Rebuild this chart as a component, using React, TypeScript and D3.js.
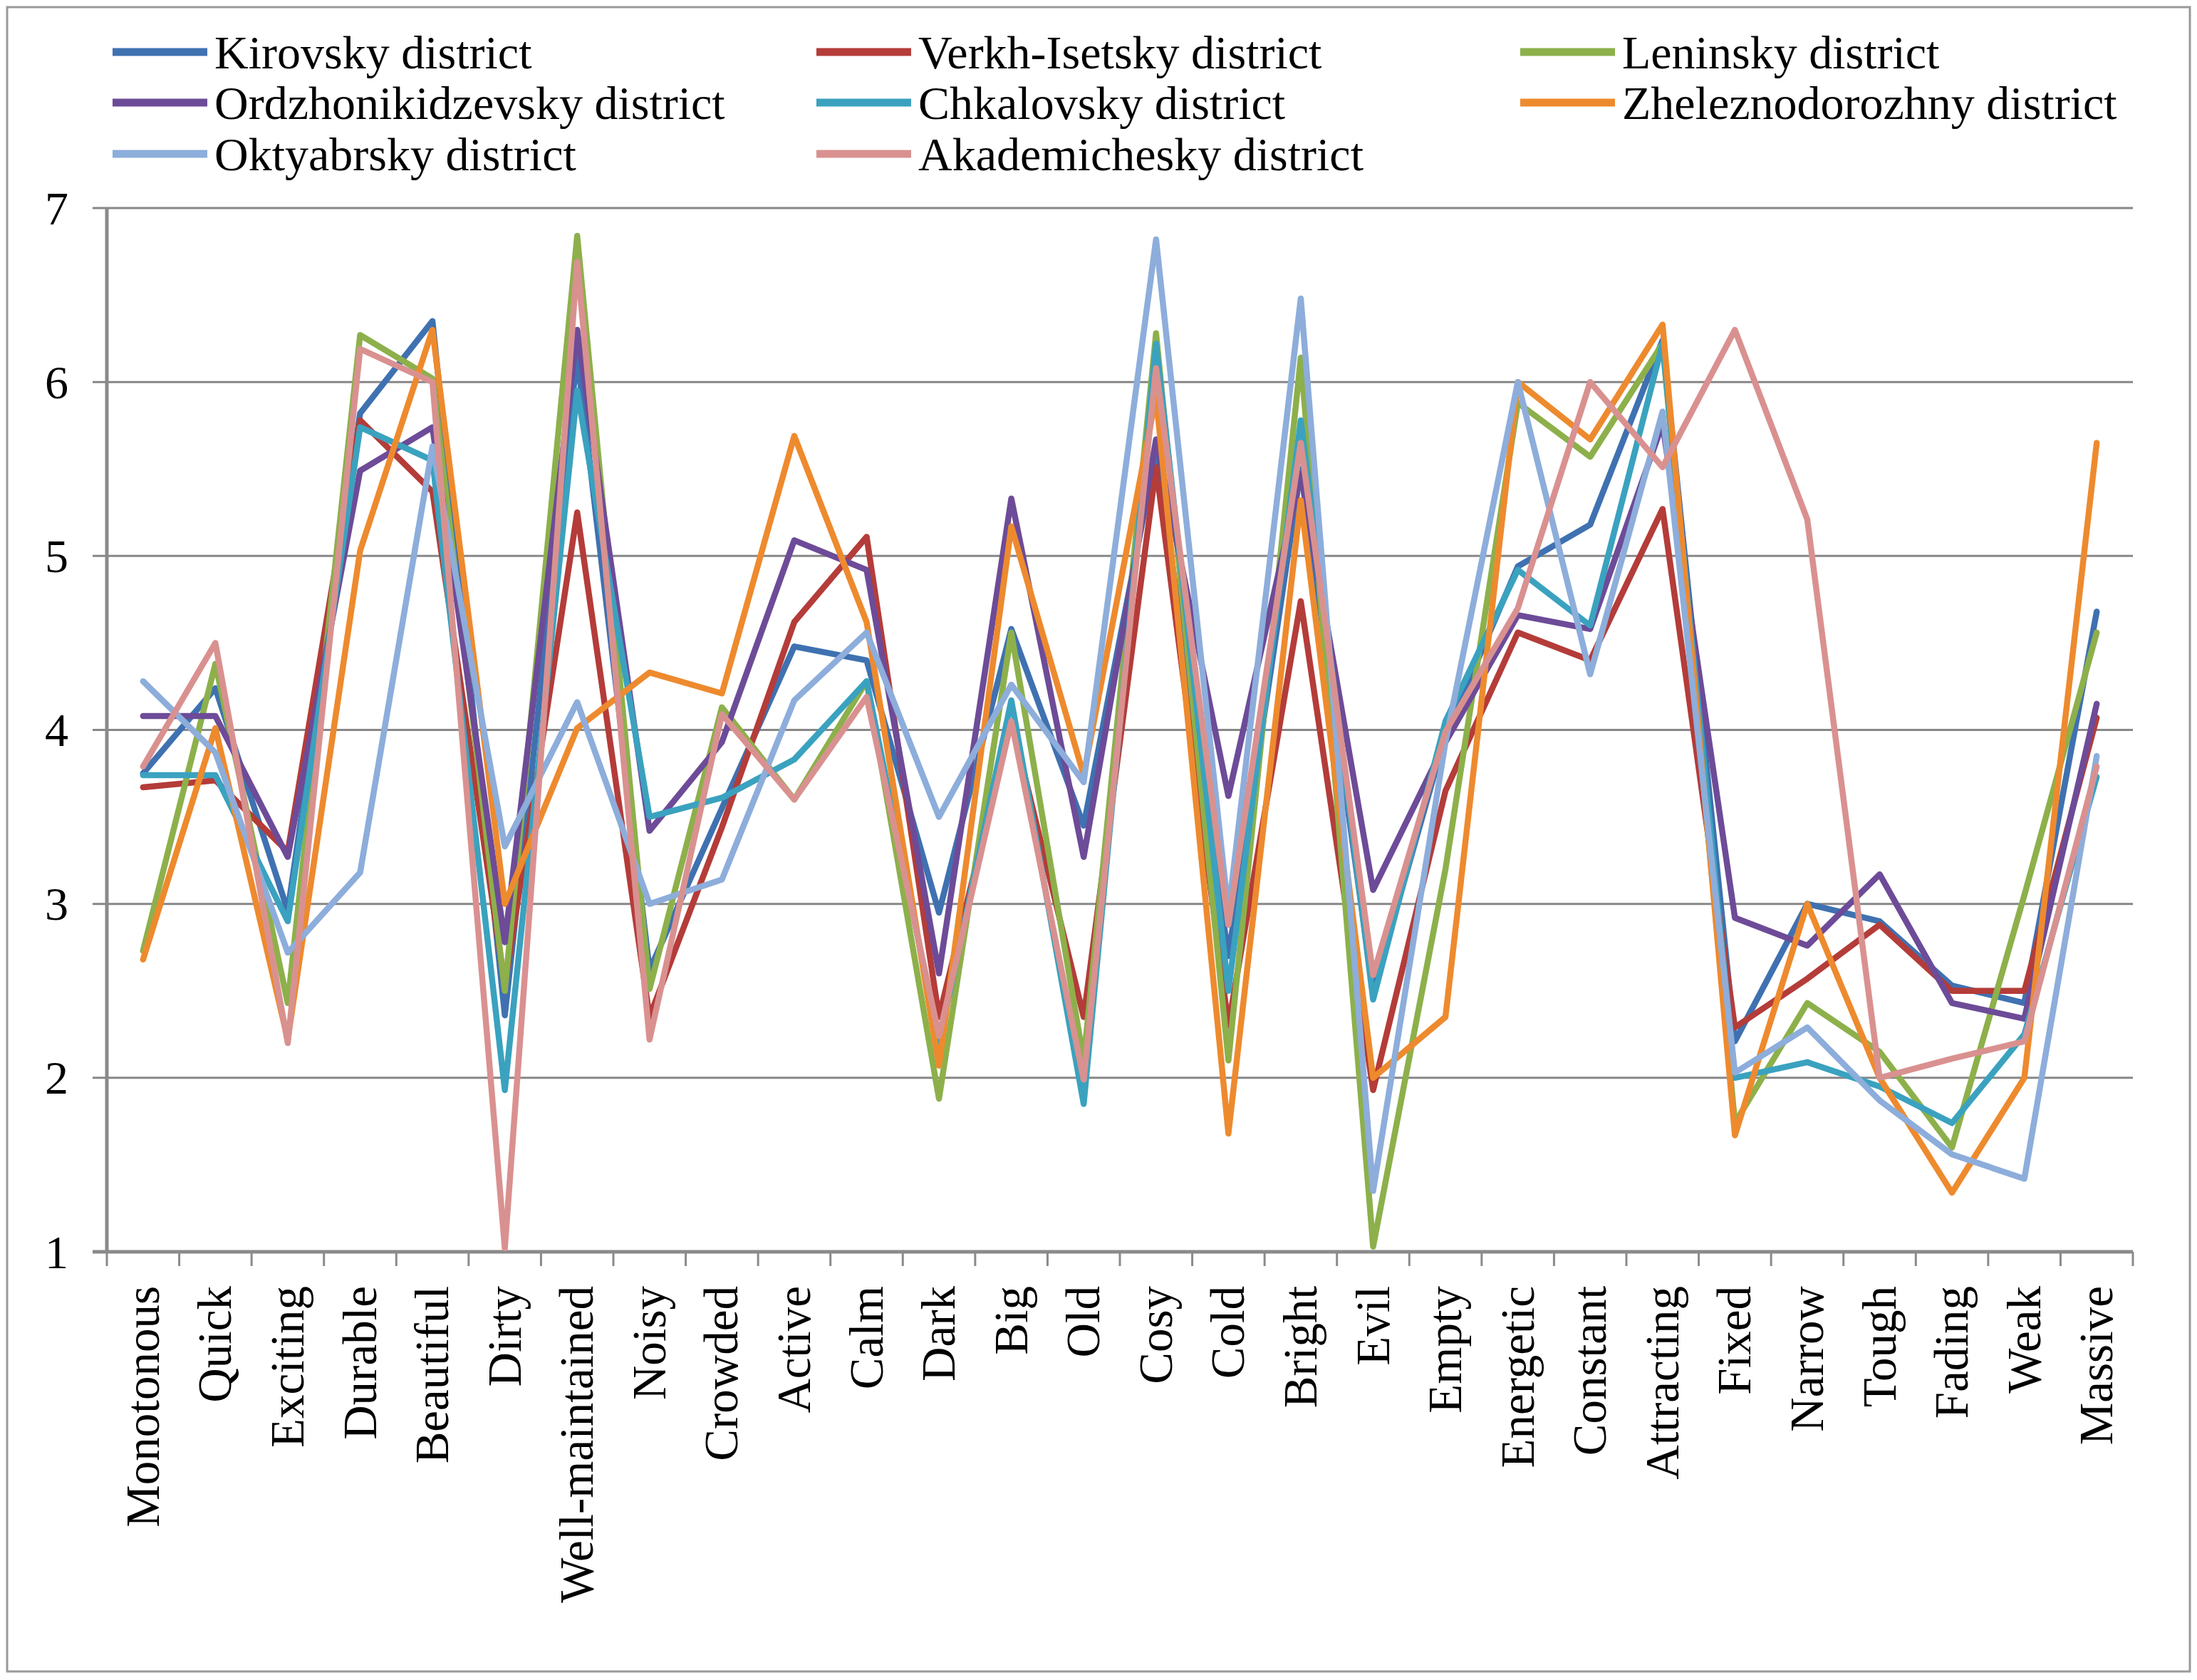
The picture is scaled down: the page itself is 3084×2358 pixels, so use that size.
import React from "react";
import * as d3 from "d3";

const categories = ["Monotonous","Quick","Exciting","Durable","Beautiful","Dirty","Well-maintained","Noisy","Crowded","Active","Calm","Dark","Big","Old","Cosy","Cold","Bright","Evil","Empty","Energetic","Constant","Attracting","Fixed","Narrow","Tough","Fading","Weak","Massive"];

const seriesNames = ["Kirovsky district","Verkh-Isetsky district","Leninsky district","Ordzhonikidzevsky district","Chkalovsky district","Zheleznodorozhny district","Oktyabrsky district","Akademichesky district"];

const kirovsky = [3.75,4.24,2.96,5.82,6.35,2.36,6.15,2.62,3.55,4.48,4.40,2.95,4.58,3.45,5.60,2.70,5.50,2.50,3.97,4.94,5.18,6.24,2.21,3.00,2.90,2.53,2.43,4.68];
const verkhIsetsky = [3.67,3.71,3.30,5.78,5.37,2.53,5.25,2.35,3.44,4.62,5.11,2.35,4.05,2.35,5.51,2.30,4.74,1.93,3.65,4.56,4.40,5.27,2.29,2.57,2.88,2.50,2.50,4.07];
const leninsky = [2.73,4.38,2.43,6.27,6.02,2.50,6.84,2.51,4.13,3.60,4.28,1.88,4.56,2.10,6.28,2.10,6.14,1.03,3.20,5.88,5.57,6.22,1.74,2.43,2.15,1.60,3.05,4.56];
const ordzhonikidzevsky = [4.08,4.08,3.27,5.49,5.74,2.78,6.30,3.42,3.93,5.09,4.92,2.60,5.33,3.27,5.67,3.62,5.47,3.08,3.93,4.66,4.58,5.76,2.92,2.76,3.17,2.43,2.34,4.15];
const chkalovsky = [3.74,3.74,2.90,5.74,5.55,1.93,5.95,3.50,3.61,3.83,4.28,2.20,4.17,1.85,6.22,2.50,5.78,2.45,4.05,4.92,4.60,6.22,2.00,2.09,1.95,1.74,2.25,3.73];
const zheleznodorozhny = [2.68,4.01,2.22,5.03,6.30,3.00,4.01,4.33,4.21,5.69,4.62,2.07,5.17,3.74,5.92,1.68,5.32,2.00,2.35,6.00,5.67,6.33,1.67,3.00,2.00,1.34,2.00,5.65];
const oktyabrsky = [4.28,3.87,2.72,3.18,5.63,3.33,4.16,3.00,3.14,4.17,4.56,3.50,4.26,3.70,6.82,2.95,6.48,1.35,3.93,6.00,4.32,5.83,2.03,2.29,1.87,1.56,1.42,3.85];
const akademichesky = [3.79,4.50,2.20,6.19,6.00,1.02,6.69,2.22,4.09,3.60,4.19,2.24,4.05,1.99,6.08,2.88,5.65,2.59,3.99,4.70,6.00,5.51,6.30,5.21,2.00,2.11,2.21,3.79];

const seriesValues = [kirovsky, verkhIsetsky, leninsky, ordzhonikidzevsky, chkalovsky, zheleznodorozhny, oktyabrsky, akademichesky];
const seriesColors = ["#3F71B1","#B43C39","#8DB04B","#6D4B98","#3AA2BF","#EE8A2E","#8DADDB","#D99190"];
const yTicks = [1,2,3,4,5,6,7];

const W = 3084, H = 2358;
const M = { left: 150, right: 2994, top: 292, bottom: 1757 };
const FONT = "'Liberation Serif', 'Times New Roman', serif";

export default function App() {
  const x = d3.scaleBand<string>().domain(categories).range([M.left, M.right]).padding(0);
  const y = d3.scaleLinear().domain([1, 7]).range([M.bottom, M.top]);
  const line = d3.line<number>()
    .x((_, i) => (x(categories[i]) as number) + x.bandwidth() / 2)
    .y((v) => y(v));
  const boundaries = d3.range(categories.length + 1).map((i) => M.left + i * x.bandwidth());

  const legendCols = [158, 1146, 2134];
  const legendRows = [73, 144, 216];

  return (
    <svg width={W} height={H} style={{ position: "absolute", left: 0, top: 0, background: "#fff" }} fontFamily={FONT}>
      <rect x={0} y={0} width={W} height={H} fill="#fff" />
      <rect x={10} y={10} width={3064} height={2336} fill="none" stroke="#9a9a9a" strokeWidth={3} />
      {yTicks.map((t) => (
        <line key={"g" + t} x1={M.left - 20} x2={M.right} y1={y(t)} y2={y(t)} stroke="#878787" strokeWidth={3} />
      ))}
      <line x1={M.left} x2={M.left} y1={M.top} y2={M.bottom} stroke="#8a8a8a" strokeWidth={5} />
      <line x1={M.left - 20} x2={M.right} y1={M.bottom} y2={M.bottom} stroke="#8a8a8a" strokeWidth={5} />
      {boundaries.map((bx, i) => (
        <line key={"t" + i} x1={bx} x2={bx} y1={M.bottom} y2={M.bottom + 20} stroke="#8a8a8a" strokeWidth={3} />
      ))}
      {yTicks.map((t) => (
        <text key={"yl" + t} x={96} y={y(t)} textAnchor="end" dominantBaseline="central" fontSize={66} fill="#000">{t}</text>
      ))}
      {categories.map((c) => {
        const cx = (x(c) as number) + x.bandwidth() / 2;
        return (
          <text key={c} transform={`translate(${cx + 22},1805) rotate(-90)`} textAnchor="end" fontSize={67} fill="#000">{c}</text>
        );
      })}
      {seriesValues.map((vals, si) => (
        <path key={"s" + si} d={line(vals) as string} fill="none" stroke={seriesColors[si]} strokeWidth={8.5} strokeLinejoin="round" strokeLinecap="round" />
      ))}
      {seriesNames.map((n, i) => {
        const col = i % 3, row = Math.floor(i / 3);
        const lx = legendCols[col], ly = legendRows[row];
        return (
          <g key={n}>
            <line x1={lx} x2={lx + 133} y1={ly} y2={ly} stroke={seriesColors[i]} strokeWidth={11} />
            <text x={lx + 143} y={ly} dominantBaseline="central" fontSize={66} fill="#000">{n}</text>
          </g>
        );
      })}
    </svg>
  );
}
